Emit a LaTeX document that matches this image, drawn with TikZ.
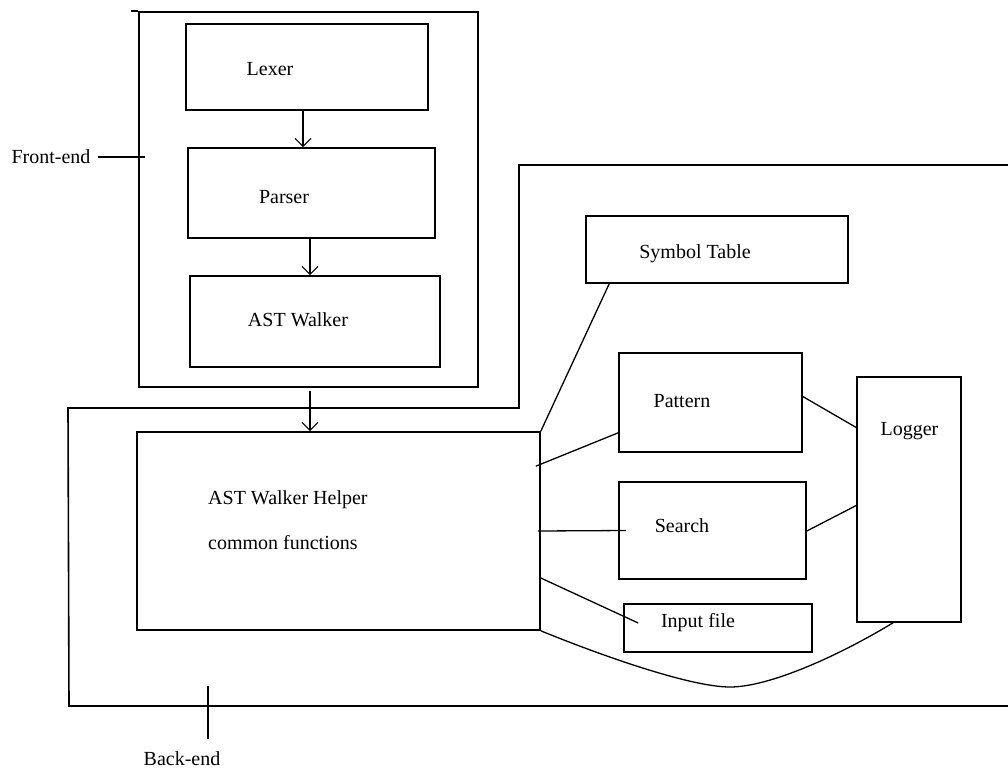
\documentclass[tikz,border=0pt]{standalone}
\usepackage{fontspec}
\setmainfont{Liberation Serif}
\usetikzlibrary{arrows.meta}

\begin{document}
\begin{tikzpicture}[x=1pt, y=-1pt,
  blk/.style={draw, line width=1.6pt, inner sep=0pt},
  lbl/.style={inner sep=0pt, font=\fontsize{20}{24}\selectfont},
  arr/.style={line width=1.4pt, -{Straight Barb[length=8pt, width=16pt, line width=1.2pt]}},
  wire/.style={line width=1.3pt}]
  \useasboundingbox (0,0) rectangle (1008,771);
  % front-end
  \node[blk, minimum width=339pt, minimum height=375pt] (fe) at (308.5,199.5) {};
  \draw[line width=1.6pt] (fe.north west) -- ++(-7,0);
  \node[blk, minimum width=242pt, minimum height=86pt] (lexer) at (307,67) {};
  \node[blk, minimum width=247pt, minimum height=90pt] (parser) at (311.5,193) {};
  \node[blk, minimum width=250pt, minimum height=91pt] (astw) at (315,321.5) {};
  \node[lbl] (lexer-t) at (270,69) {Lexer};
  \node[lbl] (parser-t) at (284,197) {Parser};
  \node[lbl] (astw-t) at (298,320) {AST Walker};
  \node[lbl] (fe-t) at (51,157) {Front-end};
  \draw[line width=1.6pt] ([xshift=7pt]fe-t.east) -- ([xshift=7pt]fe-t.east -| fe.west);
  \draw[arr] ([xshift=-4pt]lexer.south) -- ([xshift=-8.5pt]parser.north);
  \draw[arr] ([xshift=-1.5pt]parser.south) -- ([xshift=-5pt]astw.north);
  % back-end outline
  \coordinate (be-a) at (1008,165);
  \coordinate (be-b) at (519,165);
  \coordinate (be-c) at (519,408);
  \coordinate (be-d) at (68,408);
  \coordinate (be-e) at (69,706);
  \coordinate (be-f) at (1008,706);
  \draw[line width=1.6pt] (be-a) -- (be-b) -- (be-c) -- (be-d) -- (be-e) -- (be-f);
  \node[lbl] (be-t) at (182,759) {Back-end};
  \coordinate (be-tick) at (208,686);
  \draw[line width=1.6pt] (be-tick) -- ++(0,53);
  % back-end blocks
  \node[blk, minimum width=403pt, minimum height=198pt] (helper) at (338.5,531) {};
  \node[lbl, anchor=west] (helper-t) at (208,500) {AST Walker Helper};
  \node[lbl, anchor=west] (helper-t2) at (208,543) {common functions};
  \node[blk, minimum width=262pt, minimum height=67pt] (symtab) at (717,249.5) {};
  \node[blk, minimum width=183pt, minimum height=99pt] (pattern) at (710.5,402.5) {};
  \node[blk, minimum width=187pt, minimum height=97pt] (search) at (712.5,530.5) {};
  \node[blk, minimum width=188pt, minimum height=48pt] (input) at (718,628) {};
  \node[blk, minimum width=104pt, minimum height=245pt] (logger) at (909,499.5) {};
  \node[lbl] (symtab-t) at (695,254) {Symbol Table};
  \node[lbl] (pattern-t) at (682,401) {Pattern};
  \node[lbl] (search-t) at (682,526) {Search};
  \node[lbl] (input-t) at (698,623) {Input file};
  \node[lbl] (logger-t) at (909.5,431) {Logger};
  \draw[arr] ([xshift=1.5pt, yshift=-3pt]fe.south) -- ([xshift=1.5pt]fe.south |- helper.north);
  % links
  \coordinate (dip) at (730,687);
  \draw[wire] ([xshift=24pt]symtab.south west) -- (helper.north east);
  \draw[wire] ([xshift=-5pt, yshift=-35pt]helper.north east) -- ([yshift=20pt]pattern.south west);
  \draw[wire] ([xshift=-3pt]helper.east) -- ([xshift=8pt]search.west);
  \draw[wire] ([yshift=-47pt]helper.east) -- ([xshift=15pt, yshift=5pt]input.west);
  \draw[wire] ([yshift=6pt]pattern.east) -- ([yshift=72pt]logger.west);
  \draw[wire] ([yshift=-0.5pt]search.east) -- ([yshift=-6pt]logger.west);
  \draw[wire] (helper.south east) .. controls (600,655) and (690,687) .. (dip)
    .. controls (770,687) and (840,655) .. ([xshift=-16pt]logger.south);
\end{tikzpicture}
\end{document}
